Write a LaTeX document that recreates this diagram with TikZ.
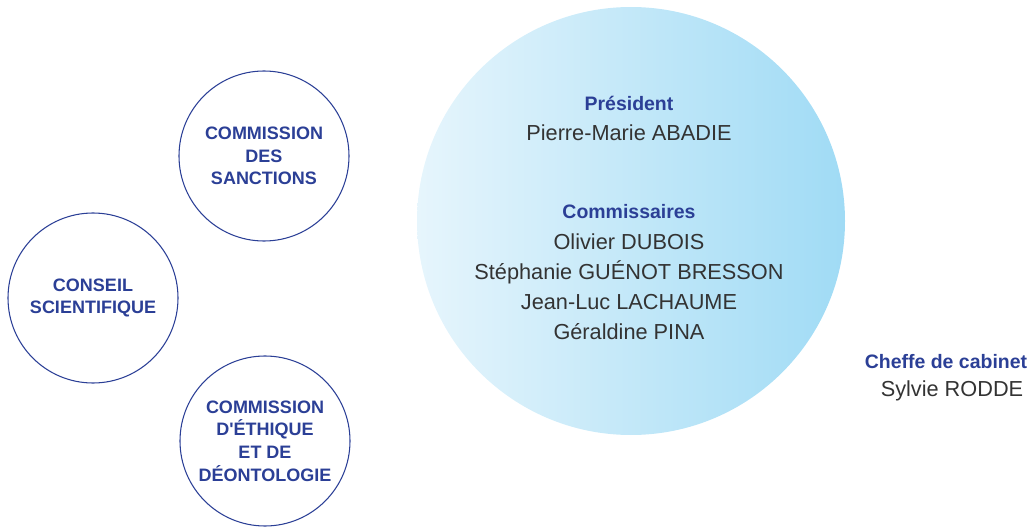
\documentclass[tikz,border=0pt]{standalone}
\usepackage{fontspec}
\setmainfont{Liberation Sans}
\usetikzlibrary{positioning}

\definecolor{ceblue}{HTML}{2B3F96}
\definecolor{skylight}{HTML}{E6F5FC}
\definecolor{skydark}{HTML}{A0DBF5}
\definecolor{namegray}{HTML}{333333}

\begin{document}
\begin{tikzpicture} [x = 0.75pt, y = -0.75pt, node distance = 22.5pt, on grid,
every node/.style = {inner sep = 0pt},
organ/.style = {circle, draw = ceblue, line width = 0.8pt, minimum size = 127.5pt, align = center,
  text = ceblue, font = \bfseries\fontsize{13.5}{17}\selectfont},
role/.style = {text = ceblue, font = \bfseries\fontsize{14.6}{18}\selectfont},
person/.style = {text = namegray, font = \fontsize{16.3}{20}\selectfont}]

\useasboundingbox (0,0) rectangle (1029,528);

% the college
\node (college) [circle, minimum size = 321pt, left color = skylight, right color = skydark] at (631,221) {};

\node (pres) [role] at (629,103) {Président};
\node (abadie) [person, below = of pres] {Pierre-Marie ABADIE};
\node (comm) [role, below = 59.25pt of abadie] {Commissaires};
\node (dubois) [person, below = of comm] {Olivier DUBOIS};
\node (guenot) [person, below = of dubois] {Stéphanie GUÉNOT BRESSON};
\node (lachaume) [person, below = of guenot] {Jean-Luc LACHAUME};
\node (pina) [person, below = of lachaume] {Géraldine PINA};

% the other bodies
\node (sanctions) [organ] at (264,156) {COMMISSION\\DES\\SANCTIONS};
\node (conseil) [organ] at (93,298) {CONSEIL\\SCIENTIFIQUE};
\node (ethique) [organ] at (265,441) {COMMISSION\\D\textquotesingle ÉTHIQUE\\ET DE\\DÉONTOLOGIE};

% cabinet
\node (cheffe) [role] at (946,362) {Cheffe de cabinet};
\node (rodde) [person, below = 21.75pt of cheffe, xshift = 4.5pt] {Sylvie RODDE};
\end{tikzpicture}
\end{document}
